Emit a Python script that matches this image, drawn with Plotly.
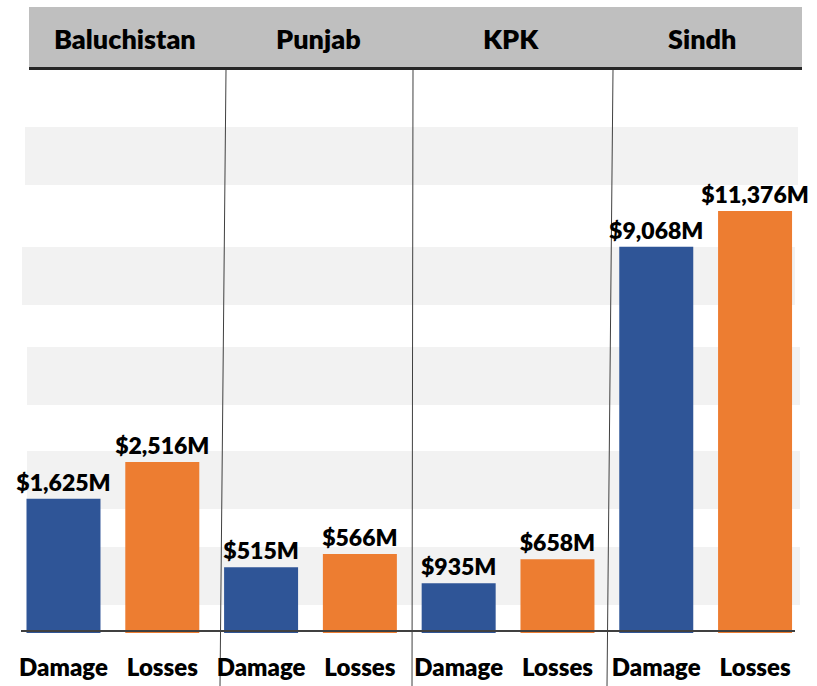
import plotly.graph_objects as go

# ---------------- data ----------------
regions = ["Baluchistan", "Punjab", "KPK", "Sindh"]
kinds = ["Damage", "Losses"]
# reported values (US$ millions) shown as labels
damage_musd = [1625, 515, 935, 9068]
losses_musd = [2516, 566, 658, 11376]
# bar heights as drawn in the picture (the original graphic is not to scale),
# in relative units where the tallest bar = 100
damage_drawn = [31.8, 15.6, 11.8, 91.5]
losses_drawn = [40.5, 18.7, 17.5, 100.0]

# ---------------- layout helpers ----------------
W, H = 817, 686
PB = 633  # pixel row of the plot-area bottom (bar base)


def px(x):
    return x / W


def py(y):
    return (PB - y) / PB


cats = [f"{r}|{k}" for r in regions for k in kinds]
BLUE = "#2F5597"
ORANGE = "#ED7D31"
FONT = "Lato"
WEIGHT = 800
BAR_W = 0.749

fig = go.Figure()
fig.add_trace(go.Bar(
    x=[f"{r}|Damage" for r in regions], y=damage_drawn,
    text=[f"${v:,}M" for v in damage_musd],
    marker=dict(color=BLUE, line=dict(width=0)), width=BAR_W,
    textposition="outside", constraintext="none", cliponaxis=False,
    textfont=dict(family=FONT, size=23, color="black", weight=WEIGHT),
    name="Damage", hoverinfo="skip",
))
fig.add_trace(go.Bar(
    x=[f"{r}|Losses" for r in regions], y=losses_drawn,
    text=[f"${v:,}M" for v in losses_musd],
    marker=dict(color=ORANGE, line=dict(width=0)), width=BAR_W,
    textposition="outside", constraintext="none", cliponaxis=False,
    textfont=dict(family=FONT, size=23, color="black", weight=WEIGHT),
    name="Losses", hoverinfo="skip",
))

shapes = []
# header band
shapes.append(dict(type="rect", xref="paper", yref="paper",
                   x0=px(29), x1=px(802), y0=py(67), y1=py(7),
                   fillcolor="#BFBFBF", line=dict(width=0), layer="below"))
shapes.append(dict(type="line", xref="paper", yref="paper",
                   x0=px(29), x1=px(802), y0=py(68.5), y1=py(68.5),
                   line=dict(color="#262626", width=3), layer="below"))
# light horizontal bands
for top, bot, left, right in [(127, 185, 25, 798), (247, 305, 22, 795),
                              (347, 405, 27, 800), (451, 509, 27, 800),
                              (547, 605, 27, 800)]:
    shapes.append(dict(type="rect", xref="paper", yref="paper",
                       x0=px(left), x1=px(right), y0=py(bot), y1=py(top),
                       fillcolor="#F2F2F2", line=dict(width=0), layer="below"))
# vertical separators
for xt, xb in [(226, 220), (413, 412), (613, 607)]:
    shapes.append(dict(type="line", xref="paper", yref="paper",
                       x0=px(xt), x1=px(xb), y0=py(70), y1=py(686),
                       line=dict(color="#404040", width=1), layer="below"))
# baseline
shapes.append(dict(type="line", xref="paper", yref="paper",
                   x0=px(21), x1=px(795), y0=py(631), y1=py(631),
                   line=dict(color="#404040", width=2), layer="above"))

annotations = []
header_shift = [12, 8, 3, -4]
for i, r in enumerate(regions):
    annotations.append(dict(
        x=2 * i + 0.5, xshift=header_shift[i], y=py(39), xref="x", yref="paper",
        text=r, showarrow=False, xanchor="center", yanchor="middle",
        font=dict(family=FONT, size=27, color="black", weight=WEIGHT),
    ))

fig.update_layout(
    width=W, height=H,
    margin=dict(l=0, r=0, t=0, b=H - PB, pad=0, autoexpand=False),
    paper_bgcolor="white", plot_bgcolor="rgba(0,0,0,0)",
    barmode="overlay", showlegend=False,
    shapes=shapes, annotations=annotations,
    xaxis=dict(type="category", categoryorder="array", categoryarray=cats,
               range=[-0.6427, 7.627], tickvals=cats,
               ticktext=[c.split("|")[1] for c in cats],
               showgrid=False, zeroline=False, showline=False,
               ticks="", ticklabelstandoff=18, automargin=False,
               tickfont=dict(family=FONT, size=24, color="black", weight=WEIGHT)),
    yaxis=dict(range=[0, 150], visible=False, showgrid=False, zeroline=False,
               fixedrange=True),
)

fig.write_html(
    "out.html",
    config={"displayModeBar": False},
    post_script="document.body.style.margin='0px';document.body.style.overflow='hidden';",
)
